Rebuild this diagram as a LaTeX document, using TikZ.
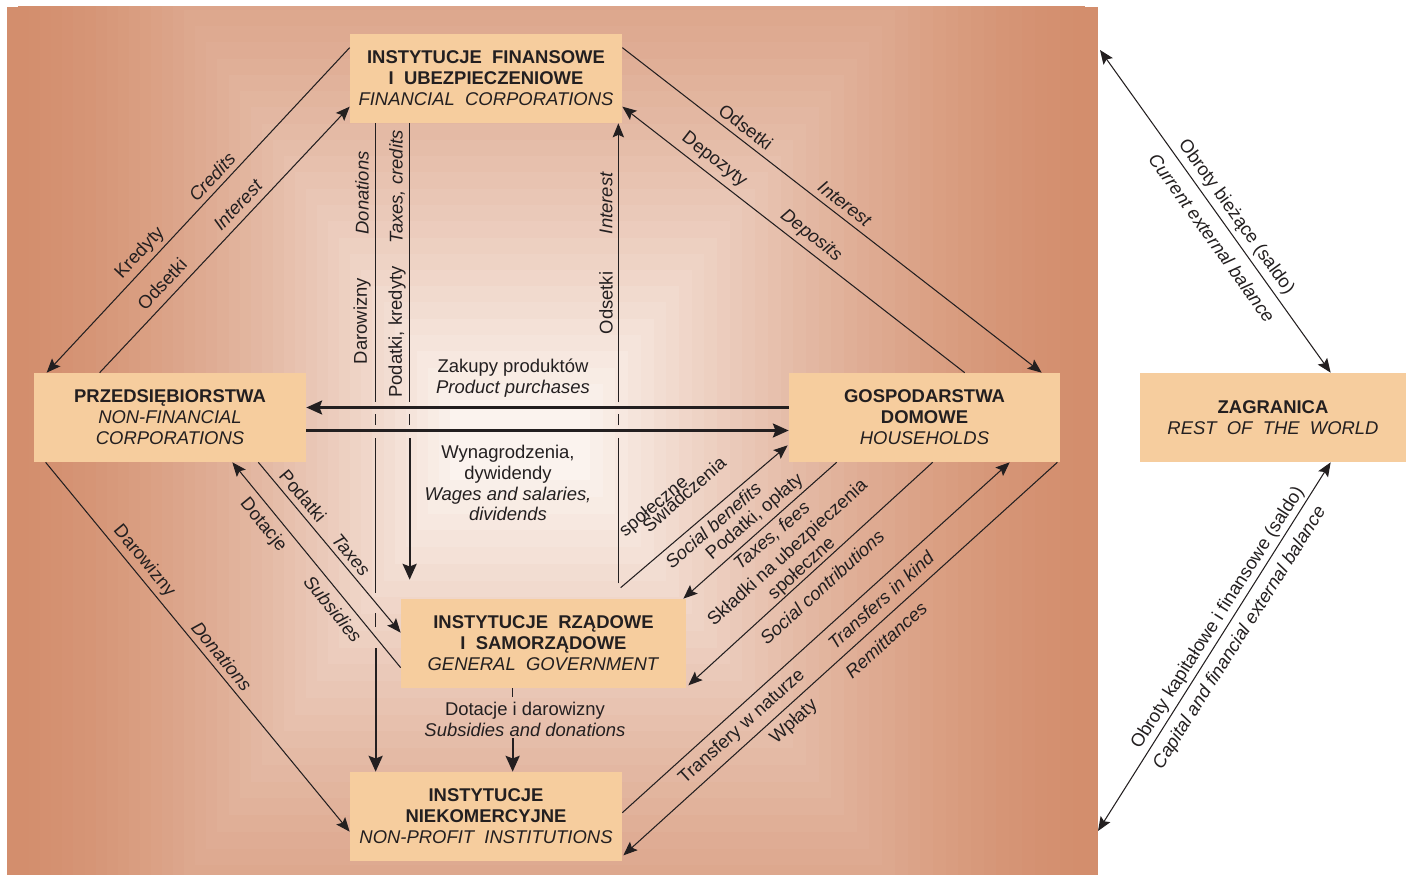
\documentclass[tikz,border=0pt]{standalone}
\usepackage{fontspec}
\setmainfont{Liberation Sans}
\usetikzlibrary{arrows.meta, calc}
\definecolor{cbox}{HTML}{F6CD9E}
\definecolor{cedge}{HTML}{D38E6D}
\definecolor{ccentre}{HTML}{FBF3EE}
\definecolor{cink}{HTML}{231F20}
\tikzset{
  every picture/.style={x=0.02cm, y=-0.02cm},
  box/.style={fill=cbox, minimum width=#1*0.02cm, minimum height=1.78cm, align=center, inner sep=0pt, text=cink, font=\fontsize{10.5}{11.9}\selectfont},
  box/.default=272,
  arrow/.style={-{Stealth[length=8pt, width=6.5pt, inset=1.5pt]}, draw=cink, line width=0.6pt},
  fatarrow/.style={-{Stealth[length=9pt, width=8pt, inset=1.5pt]}, draw=cink, line width=1.2pt},
  twoway/.style={{Stealth[length=8pt, width=6.5pt, inset=1.5pt]}-{Stealth[length=8pt, width=6.5pt, inset=1.5pt]}, draw=cink, line width=0.6pt},
  thinline/.style={draw=cink, line width=0.6pt},
  note/.style={font=\fontsize{10.5}{11.9}\selectfont, text=cink, inner sep=0pt, align=center},
}
\begin{document}
\begin{tikzpicture}
  \useasboundingbox (0,0) rectangle (1406,875);
  % background panel, lighter towards the middle
  \begin{scope}
    \clip (7,7) rectangle (1098,875);
    \fill[cedge] (7,7) rectangle (1098,875);
    \foreach \i in {1,...,40} {
      \pgfmathsetmacro{\f}{\i/40}
      \pgfmathsetmacro{\p}{100*\f*sqrt(\f)}
      \fill[ccentre!\p!cedge] ({7+443*\f},{-250+650*\f}) rectangle ({1098-508*\f},{1150-670*\f});
    }
  \end{scope}
  \coordinate (cur) at (1100,50);
  \coordinate (cap) at (1098,831);

  % sectors
  \node[box] (fc) at (486,78.5) {\textbf{INSTYTUCJE\ \ FINANSOWE}\\\textbf{I\ \ UBEZPIECZENIOWE}\\\textit{FINANCIAL\ \ CORPORATIONS}};
  \node[box] (nfc) at (170,417.5) {\textbf{PRZEDSIĘBIORSTWA}\\\textit{NON-FINANCIAL}\\\textit{CORPORATIONS}};
  \node[box=271] (hh) at (924.5,417.5) {\textbf{GOSPODARSTWA}\\\textbf{DOMOWE}\\\textit{HOUSEHOLDS}};
  \node[box=285] (gg) at (543.5,643.5) {\textbf{INSTYTUCJE\ \ RZĄDOWE}\\\textbf{I\ \ SAMORZĄDOWE}\\\textit{GENERAL\ \ GOVERNMENT}};
  \node[box] (npi) at (486,816.5) {\textbf{INSTYTUCJE}\\\textbf{NIEKOMERCYJNE}\\\textit{NON-PROFIT\ \ INSTITUTIONS}};
  \node[box=266] (row) at (1273,417.5) {\textbf{ZAGRANICA}\\\textit{REST\ \ OF\ \ THE\ \ WORLD}};

  % financial corporations <-> enterprises, households
  \draw[arrow] ($(fc.north west)+(0,14)$) -- ($(nfc.north west)+(13,0)$);
  \draw[arrow] ($(nfc.north west)+(66,0)$) -- ($(fc.north west)+(0,73)$);
  \draw[arrow] ($(fc.north east)+(0,14)$) -- ($(hh.north west)+(253,0)$);
  \draw[arrow] ($(hh.north west)+(176,0)$) -- ($(fc.north east)+(0,73)$);

  % product purchases, wages
  \coordinate (pur) at ($(nfc.east)+(0,-10)$);
  \coordinate (wag) at ($(nfc.east)+(0,13)$);
  \draw[fatarrow] (hh.west |- pur) -- (pur);
  \draw[fatarrow] (wag) -- (hh.west |- wag);

  % vertical flows from / to financial corporations
  \coordinate (don) at ($(fc.south west)+(26,0)$);
  \coordinate (tax) at ($(fc.south west)+(60,0)$);
  \coordinate (int) at ($(fc.south east)+(-4,0)$);
  \draw[thinline] (don) -- ($(don)+(0,279)$) ($(don)+(0,291)$) -- ($(don)+(0,302)$)
    ($(don)+(0,315)$) -- ($(don)+(0,470)$) ($(don)+(0,490)$) -- ($(don)+(0,504)$);
  \draw[fatarrow] ($(don)+(0,525)$) -- (don |- npi.north);
  \draw[thinline] (tax) -- ($(tax)+(0,279)$) ($(tax)+(0,291)$) -- ($(tax)+(0,302)$);
  \draw[fatarrow] ($(tax)+(0,315)$) -- ($(tax |- gg.north)+(0,-19)$);
  \draw[arrow] ($(int)+(0,460)$) -- ($(int)+(0,315)$) ($(int)+(0,302)$) -- ($(int)+(0,291)$)
    ($(int)+(0,279)$) -- (int);

  % government <-> households, non-profit institutions <-> households
  \draw[arrow] ($(gg.north west)+(220,-11)$) -- ($(hh.south west)+(-1,-17)$);
  \draw[arrow] ($(hh.south west)+(48,0)$) -- ($(gg.north east)+(-3,0)$);
  \draw[arrow] ($(hh.south west)+(144,0)$) -- ($(gg.south east)+(2,-3)$);
  \draw[arrow] ($(npi.north east)+(0,41)$) -- ($(hh.south west)+(221,0)$);
  \draw[arrow] ($(hh.south east)+(-3,0)$) -- ($(npi.south east)+(1,-6)$);

  % enterprises <-> government, non-profit institutions
  \draw[arrow] ($(nfc.south east)+(-48,0)$) -- ($(gg.north west)+(0,34)$);
  \draw[arrow] ($(gg.north west)+(0,69)$) -- ($(nfc.south east)+(-74,0)$);
  \draw[arrow] ($(nfc.south west)+(12,0)$) -- ($(npi.north west)+(0,60)$);

  % government -> non-profit institutions
  \coordinate (sub) at ($(gg.south west)+(112,0)$);
  \draw[thinline] (sub) -- ($(sub)+(0,9)$);
  \draw[fatarrow] ($(sub)+(0,50)$) -- (sub |- npi.north);

  % rest of the world
  \draw[twoway] (cur) -- ($(row.north west)+(191,0)$);
  \draw[twoway] ($(row.south west)+(191,0)$) -- (cap);

  % labels
  \node[note, rotate=46.8] (lkre) at (140,253) {Kredyty};
  \node[note, rotate=46.8] (lcre) at (212,177) {\textit{Credits}};
  \node[note, rotate=46.8] (lods1) at (162,284) {Odsetki};
  \node[note, rotate=46.8] (lint1) at (238,205) {\textit{Interest}};
  \node[note, rotate=-37.7] (lods2) at (746,127) {Odsetki};
  \node[note, rotate=-37.7] (lint2) at (845,204) {\textit{Interest}};
  \node[note, rotate=-37.7] (ldep) at (714,160) {Depozyty};
  \node[note, rotate=-37.7] (ldeps) at (811,236) {\textit{Deposits}};
  \node[note, rotate=90] (ldar1) at (362,321) {Darowizny};
  \node[note, rotate=90] (ldon1) at (362,193) {\textit{Donations}};
  \node[note, rotate=90] (lpod1) at (397,332) {Podatki, kredyty};
  \node[note, rotate=90] (ltax1) at (397,187) {\textit{Taxes, credits}};
  \node[note, rotate=90] (lods3) at (606,303) {Odsetki};
  \node[note, rotate=90] (lint3) at (606,203) {\textit{Interest}};
  \node[note] (lzak) at (513,378) {Zakupy produktów\\\textit{Product purchases}};
  \node[note] (lwyn) at (508,483) {Wynagrodzenia,\\dywidendy\\\textit{Wages and salaries,}\\\textit{dividends}};
  \node[note, rotate=41] (lswi) at (683,493) {Świadczenia};
  \node[note, rotate=40] (lspo) at (654,507) {społeczne};
  \node[note, rotate=41] (lsob) at (713,525) {\textit{Social benefits}};
  \node[note, rotate=40.6] (lpod3) at (755,517) {Podatki, opłaty};
  \node[note, rotate=40.6] (ltf) at (772,536) {\textit{Taxes, fees}};
  \node[note, rotate=42.2] (lskl) at (795,561) {Składki na ubezpieczenia\\społeczne};
  \node[note, rotate=42.2] (lsco) at (822,587) {\textit{Social contributions}};
  \node[note, rotate=42.1] (ltin) at (881,600) {\textit{Transfers in kind}};
  \node[note, rotate=42.1] (ltwn) at (742,727) {Transfery w naturze};
  \node[note, rotate=42.1] (lwpl) at (794,722) {Wpłaty};
  \node[note, rotate=42.1] (lrem) at (886,640) {\textit{Remittances}};
  \node[note, rotate=-50.1] (lpod2) at (303,496) {Podatki};
  \node[note, rotate=-50.1] (ltax2) at (351,555) {\textit{Taxes}};
  \node[note, rotate=-50.7] (ldot) at (263,525) {Dotacje};
  \node[note, rotate=-50.7] (lsubs) at (333,609) {\textit{Subsidies}};
  \node[note, rotate=-50.5] (ldar2) at (144,561) {Darowizny};
  \node[note, rotate=-50.5] (ldon2) at (222,656) {\textit{Donations}};
  \node[note] (ldotd) at (525,719.5) {Dotacje i darowizny\\\textit{Subsidies and donations}};
  \node[note, rotate=-54.3] (lobr1) at (1236,217) {Obroty bieżące (saldo)};
  \node[note, rotate=-54.3] (lcur) at (1212,238) {\textit{Current external balance}};
  \node[note, rotate=57.6] (lobr2) at (1218,618) {Obroty kapitałowe i finansowe (saldo)};
  \node[note, rotate=57.6] (lcap) at (1240,638) {\textit{Capital and financial external balance}};
\end{tikzpicture}
\end{document}
